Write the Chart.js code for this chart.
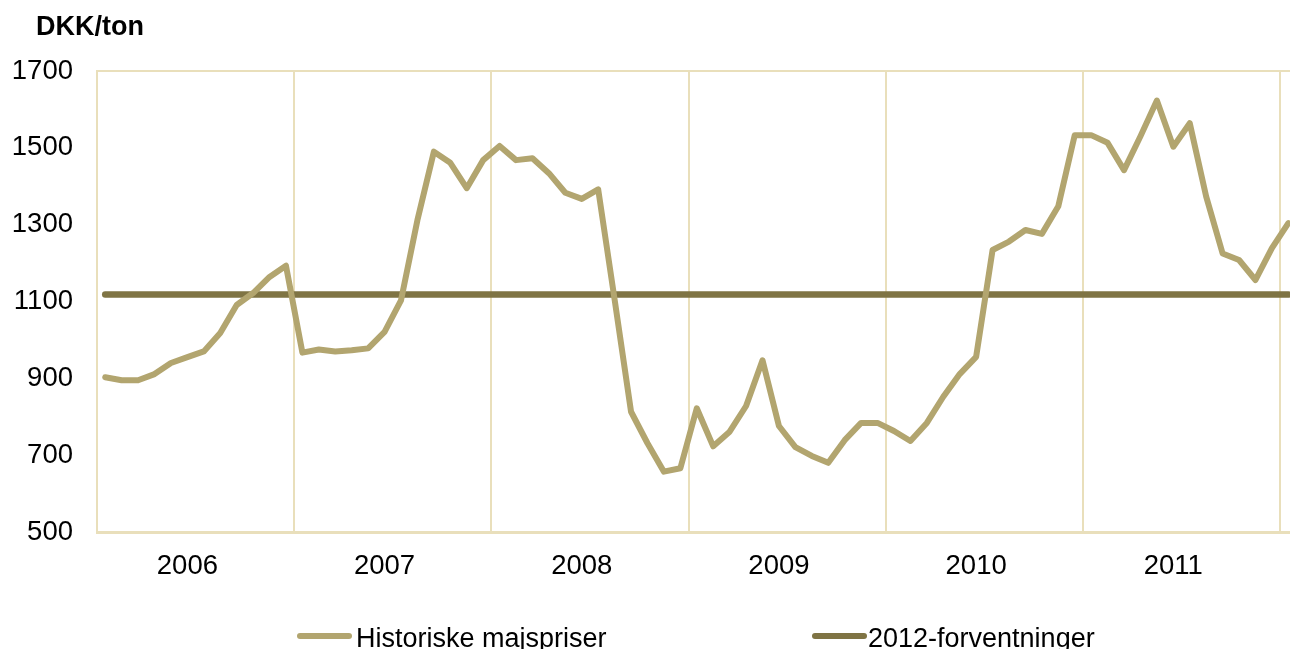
<!DOCTYPE html>
<html>
<head>
<meta charset="utf-8">
<script src="https://cdn.jsdelivr.net/npm/chart.js@4.4.1/dist/chart.umd.min.js"></script>
<style>
  html, body { margin: 0; padding: 0; background: #ffffff; }
  #wrap { width: 1290px; height: 649px; position: relative; }
</style>
</head>
<body>
<div id="wrap"><canvas id="c" width="1290" height="649"></canvas></div>
<script>
// ---- Data ----
const yearLabels = ['2006', '2007', '2008', '2009', '2010', '2011'];
const unitLabel = 'DKK/ton';
const seriesNames = ['Historiske majspriser', '2012-forventninger'];

// monthly prices, Jan 2006 .. Jan 2012
const prices2006 = [903, 895, 895, 911, 940, 955, 970, 1018, 1091, 1122, 1164, 1193];
const prices2007 = [967, 975, 970, 973, 978, 1021, 1103, 1312, 1490, 1461, 1395, 1468];
const prices2008 = [1505, 1468, 1473, 1434, 1383, 1367, 1392, 1105, 813, 731, 657, 666];
const prices2009 = [822, 723, 761, 828, 947, 776, 721, 698, 680, 739, 784, 784];
const prices2010 = [763, 737, 784, 852, 911, 956, 1234, 1256, 1286, 1276, 1348, 1533];
const prices2011 = [1533, 1513, 1442, 1530, 1623, 1503, 1564, 1373, 1225, 1208, 1156, 1239];
const prices2012 = [1304];

const forecastLevel = 1118;

const yTicks = [500, 700, 900, 1100, 1300, 1500, 1700];

// ---- Build ----
const historic = [].concat(prices2006, prices2007, prices2008, prices2009, prices2010, prices2011, prices2012);
const historicPoints = historic.map((v, i) => ({ x: i + 0.5, y: v }));
const forecastPoints = historic.map((v, i) => ({ x: i + 0.5, y: forecastLevel }));

const COL_HIST = '#b2a56f';
const COL_FC = '#7f7444';
const COL_GRID = '#e9dfbb';
const FONT = "'Liberation Sans', Arial, sans-serif";

const overlay = {
  id: 'overlay',
  afterDraw(chart) {
    const ctx = chart.ctx;
    ctx.save();
    ctx.fillStyle = '#000';
    ctx.textBaseline = 'alphabetic';
    ctx.textAlign = 'left';
    ctx.font = "bold 27px " + FONT;
    ctx.fillText(unitLabel, 36, 35);

    // legend
    const items = [
      { x: 300, tx: 356, ds: chart.data.datasets[0] },
      { x: 815, tx: 868, ds: chart.data.datasets[1] }
    ];
    ctx.font = "27px " + FONT;
    items.forEach(it => {
      ctx.beginPath();
      ctx.lineCap = 'round';
      ctx.lineWidth = 6;
      ctx.strokeStyle = it.ds.borderColor;
      ctx.moveTo(it.x, 636);
      ctx.lineTo(it.x + 49, 636);
      ctx.stroke();
      ctx.fillStyle = '#000';
      ctx.fillText(it.ds.label, it.tx, 647);
    });
    ctx.restore();
  }
};

new Chart(document.getElementById('c'), {
  type: 'line',
  data: {
    datasets: [
      {
        label: seriesNames[0],
        data: historicPoints,
        borderColor: COL_HIST,
        backgroundColor: COL_HIST,
        borderWidth: 6,
        pointRadius: 0,
        tension: 0,
        borderJoinStyle: 'round',
        borderCapStyle: 'round',
        order: 1
      },
      {
        label: seriesNames[1],
        data: forecastPoints,
        borderColor: COL_FC,
        backgroundColor: COL_FC,
        borderWidth: 6.5,
        pointRadius: 0,
        tension: 0,
        borderCapStyle: 'round',
        order: 2
      }
    ]
  },
  options: {
    responsive: false,
    animation: false,
    devicePixelRatio: 1,
    layout: { padding: { top: 71, left: 0, right: 0, bottom: 57 } },
    plugins: {
      legend: { display: false },
      title: { display: false },
      tooltip: { enabled: false }
    },
    scales: {
      x: {
        type: 'linear',
        min: 0,
        max: 72.6,
        afterBuildTicks(scale) {
          const t = [];
          for (let y = 0; y <= yearLabels.length; y++) {
            t.push({ value: y * 12 });
            if (y < yearLabels.length) t.push({ value: y * 12 + 5.5 });
          }
          scale.ticks = t;
        },
        afterFit(scale) { scale.height = 60; scale.paddingLeft = 0; scale.paddingRight = 0; },
        grid: {
          drawTicks: false,
          lineWidth: 2,
          color: (c) => (c.tick && c.tick.value % 12 === 0) ? COL_GRID : 'rgba(0,0,0,0)'
        },
        border: { display: true, color: COL_GRID, width: 3 },
        ticks: {
          autoSkip: false,
          maxRotation: 0,
          padding: 18,
          color: '#000',
          font: { family: FONT, size: 27.5 },
          callback: (v) => (v % 12 === 5.5) ? yearLabels[Math.floor(v / 12)] : ''
        }
      },
      y: {
        min: 500,
        max: 1700,
        afterBuildTicks(scale) { scale.ticks = yTicks.map(v => ({ value: v })); },
        afterFit(scale) { scale.width = 97; },
        grid: {
          drawTicks: false,
          lineWidth: 2,
          color: (c) => (c.tick && c.tick.value === 1700) ? COL_GRID : 'rgba(0,0,0,0)'
        },
        border: { display: true, color: COL_GRID, width: 2 },
        ticks: {
          padding: 24,
          color: '#000',
          font: { family: FONT, size: 27.5 },
          callback: (v) => String(v)
        }
      }
    }
  },
  plugins: [overlay]
});
</script>
</body>
</html>
